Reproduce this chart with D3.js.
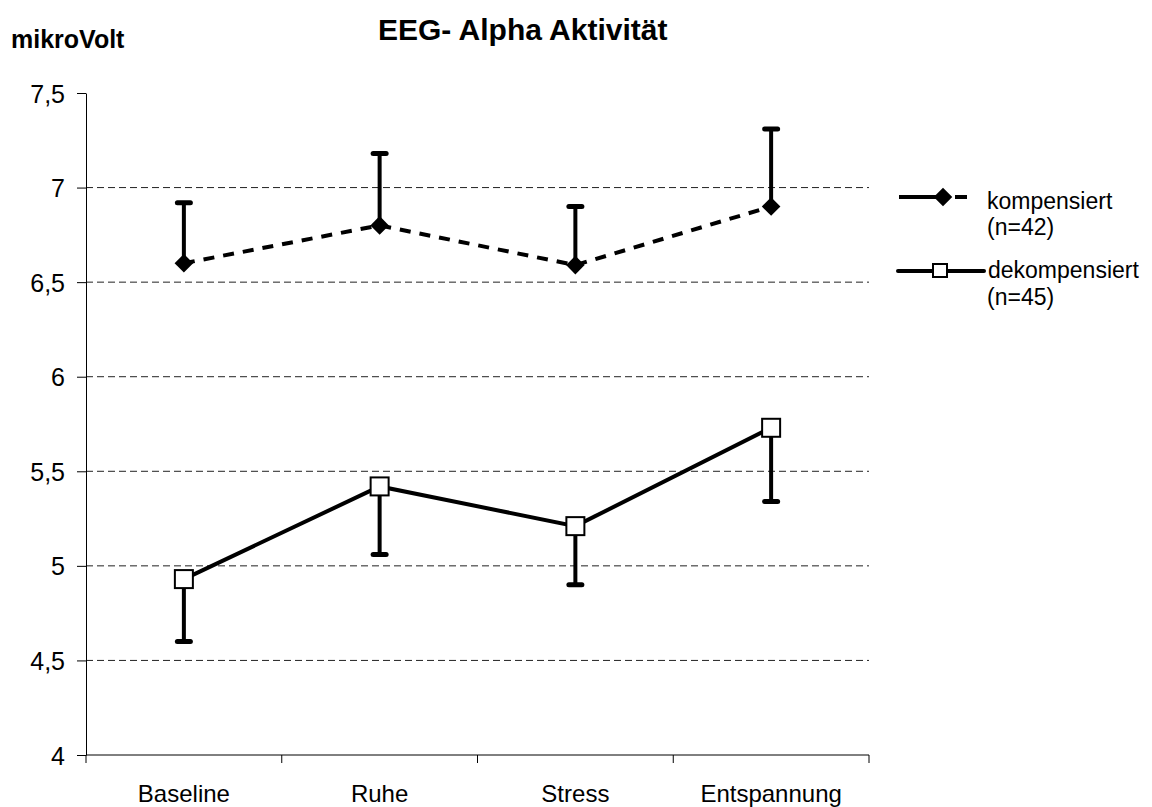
<!DOCTYPE html>
<html>
<head>
<meta charset="utf-8">
<script src="https://cdn.jsdelivr.net/npm/d3@7"></script>
<style>
  html, body { margin: 0; padding: 0; background: #fff; }
  svg { display: block; font-family: "Liberation Sans", Arial, sans-serif; }
</style>
</head>
<body>
<svg id="chart" width="1152" height="807"></svg>
<script>
// Measurement phases
const categories = ["Baseline", "Ruhe", "Stress", "Entspannung"];

// Mean alpha activity (µV) and the upper / lower end of each error bar
const kompensiert = [6.60, 6.80, 6.59, 6.90];
const kompensiertUpper = [6.92, 7.18, 6.90, 7.31];
const dekompensiert = [4.93, 5.42, 5.21, 5.73];
const dekompensiertLower = [4.60, 5.06, 4.90, 5.34];

const yTicks = [4, 4.5, 5, 5.5, 6, 6.5, 7, 7.5];
const yTickLabels = ["4", "4,5", "5", "5,5", "6", "6,5", "7", "7,5"];

const svg = d3.select("#chart");
const W = 1152, H = 807;
const margin = { left: 86, right: 283, top: 93, bottom: 52 };

const x = d3.scaleBand()
  .domain(categories)
  .range([margin.left, W - margin.right])
  .padding(0);
const y = d3.scaleLinear()
  .domain([4, 7.5])
  .range([H - margin.bottom, margin.top]);

const cx = c => x(c) + x.bandwidth() / 2;

// Dashed horizontal gridlines
svg.append("g")
  .selectAll("line")
  .data(yTicks.filter(t => t > 4 && t < 7.5))
  .join("line")
  .attr("x1", margin.left)
  .attr("x2", W - margin.right)
  .attr("y1", d => y(d))
  .attr("y2", d => y(d))
  .attr("stroke", "#222")
  .attr("stroke-width", 1)
  .attr("stroke-dasharray", "7,4");

// Y axis
const yAxis = d3.axisLeft(y)
  .tickValues(yTicks)
  .tickFormat((d, i) => yTickLabels[i])
  .tickSize(9)
  .tickSizeOuter(0)
  .tickPadding(12);
const gy = svg.append("g")
  .attr("transform", `translate(${margin.left},0)`)
  .call(yAxis);
gy.attr("font-family", null).attr("font-size", null);
gy.select(".domain").attr("stroke", "#000").attr("stroke-width", 1);
gy.selectAll(".tick line").attr("stroke", "#000");
gy.selectAll(".tick text")
  .style("font-size", "25px")
  .attr("dy", "0.36em")
  .attr("fill", "#000");

// X axis: ticks sit on the band boundaries, labels in the band centres
const xEdges = categories.map(c => x(c)).concat([x(categories[categories.length - 1]) + x.bandwidth()]);
const gx = svg.append("g");
gx.append("line")
  .attr("x1", margin.left).attr("x2", W - margin.right)
  .attr("y1", y(4)).attr("y2", y(4))
  .attr("stroke", "#000");
gx.selectAll("line.tick")
  .data(xEdges)
  .join("line")
  .attr("class", "tick")
  .attr("x1", d => d).attr("x2", d => d)
  .attr("y1", y(4)).attr("y2", y(4) + 8)
  .attr("stroke", "#000");
gx.selectAll("text")
  .data(categories)
  .join("text")
  .attr("x", d => cx(d))
  .attr("y", y(4) + 47)
  .attr("text-anchor", "middle")
  .style("font-size", "24px")
  .attr("fill", "#000")
  .text(d => d);

// Error bars
function errorBars(means, ends) {
  const g = svg.append("g");
  g.selectAll("line.stem")
    .data(categories)
    .join("line")
    .attr("class", "stem")
    .attr("x1", d => cx(d)).attr("x2", d => cx(d))
    .attr("y1", (d, i) => y(means[i]))
    .attr("y2", (d, i) => y(ends[i]))
    .attr("stroke", "#000")
    .attr("stroke-width", 4);
  g.selectAll("line.cap")
    .data(categories)
    .join("line")
    .attr("class", "cap")
    .attr("x1", d => cx(d) - 6.5).attr("x2", d => cx(d) + 6.5)
    .attr("y1", (d, i) => y(ends[i]))
    .attr("y2", (d, i) => y(ends[i]))
    .attr("stroke", "#000")
    .attr("stroke-width", 5)
    .attr("stroke-linecap", "round");
}
errorBars(kompensiert, kompensiertUpper);
errorBars(dekompensiert, dekompensiertLower);

const line = d3.line().x((d, i) => cx(categories[i])).y(d => y(d));

// kompensiert: dashed line with diamonds
svg.append("path")
  .datum(kompensiert)
  .attr("d", line)
  .attr("fill", "none")
  .attr("stroke", "#000")
  .attr("stroke-width", 4)
  .attr("stroke-dasharray", "11,9");
const diamond = d3.symbol().type(d3.symbolDiamond2).size(220);
svg.append("g")
  .selectAll("path")
  .data(kompensiert)
  .join("path")
  .attr("d", diamond)
  .attr("transform", (d, i) => `translate(${cx(categories[i])},${y(d)})`)
  .attr("fill", "#000");

// dekompensiert: solid line with open squares
svg.append("path")
  .datum(dekompensiert)
  .attr("d", line)
  .attr("fill", "none")
  .attr("stroke", "#000")
  .attr("stroke-width", 4);
svg.append("g")
  .selectAll("rect")
  .data(dekompensiert)
  .join("rect")
  .attr("x", (d, i) => cx(categories[i]) - 9)
  .attr("y", d => y(d) - 9)
  .attr("width", 18)
  .attr("height", 18)
  .attr("fill", "#fff")
  .attr("stroke", "#000")
  .attr("stroke-width", 2);

// Titles
svg.append("text")
  .attr("x", 378).attr("y", 40)
  .style("font-size", "30px")
  .attr("font-weight", "bold")
  .text("EEG- Alpha Aktivität");
svg.append("text")
  .attr("x", 11).attr("y", 48)
  .style("font-size", "25px")
  .attr("font-weight", "bold")
  .text("mikroVolt");

// Legend
const lg = svg.append("g");
const l1y = 197, l2y = 271;
lg.append("line")
  .attr("x1", 899).attr("x2", 967).attr("y1", l1y).attr("y2", l1y)
  .attr("stroke", "#000").attr("stroke-width", 4)
  .attr("stroke-dasharray", "44,12,12");
lg.append("path")
  .attr("d", diamond)
  .attr("transform", `translate(943,${l1y})`)
  .attr("fill", "#000");
lg.append("text").attr("x", 987).attr("y", 209).style("font-size", "23px").text("kompensiert");
lg.append("text").attr("x", 987).attr("y", 235).style("font-size", "23px").text("(n=42)");

lg.append("line")
  .attr("x1", 898).attr("x2", 984).attr("y1", l2y).attr("y2", l2y)
  .attr("stroke", "#000").attr("stroke-width", 4)
  .attr("stroke-linecap", "round");
lg.append("rect")
  .attr("x", 933).attr("y", l2y - 7)
  .attr("width", 14).attr("height", 13)
  .attr("fill", "#fff").attr("stroke", "#000").attr("stroke-width", 2);
lg.append("text").attr("x", 988).attr("y", 278).style("font-size", "23px").text("dekompensiert");
lg.append("text").attr("x", 987).attr("y", 305).style("font-size", "23px").text("(n=45)");
</script>
</body>
</html>
